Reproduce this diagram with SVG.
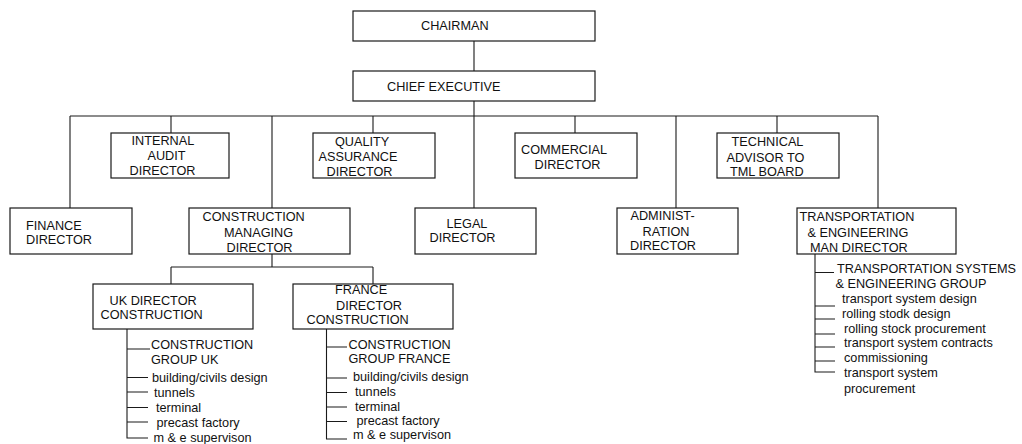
<svg xmlns="http://www.w3.org/2000/svg" width="1022" height="444" viewBox="0 0 1022 444">
  <style>
    rect.box { fill: #ffffff; stroke: #1a1a1a; stroke-width: 1.2; }
    .wire { fill: none; stroke: #1a1a1a; stroke-width: 1.1; }
    text { font-family: "Liberation Sans", Arial, sans-serif; font-size: 12.7px; fill: #111111; }
  </style>
  <rect x="0" y="0" width="1022" height="444" fill="#ffffff"/>

  <!-- connectors -->
  <g id="connectors" class="wire">
    <path d="M474 41V71M474 101V116M70 116H878"/>
    <path d="M70 116V208M171 116V133M272 116V208M373 116V133M474 116V208M575 116V133M676 116V208M777 116V133M878 116V208"/>
    <path d="M272 254V267M171 267H373M171 267V284M373 267V284"/>
    <!-- UK construction group tree -->
    <path d="M127 329V438H148M127 349H150M127 377.5H148M127 392H148M127 407.5H148M127 422H148"/>
    <!-- France construction group tree -->
    <path d="M326.5 329V439H347M326.5 347H347M326.5 378H347M326.5 392.5H347M326.5 407H347M326.5 421.5H347"/>
    <!-- transportation systems tree -->
    <path d="M815 254V372H835M815 272.5H834M815 306H835M815 319H835M815 334H835M815 347H835M815 361H835"/>
  </g>

  <g id="chairman">
    <rect class="box" x="353" y="11" width="242" height="30"/>
    <text x="421" y="29.5">CHAIRMAN</text>
  </g>
  <g id="chief-executive">
    <rect class="box" x="353" y="71" width="242" height="30"/>
    <text x="387" y="91">CHIEF EXECUTIVE</text>
  </g>
  <g id="internal-audit">
    <rect class="box" x="111" y="133" width="118" height="45"/>
    <text x="131.5" y="144.5">INTERNAL</text>
    <text x="147.5" y="159.5">AUDIT</text>
    <text x="129.5" y="175">DIRECTOR</text>
  </g>
  <g id="quality-assurance">
    <rect class="box" x="313" y="133" width="122" height="45"/>
    <text x="335" y="145.5">QUALITY</text>
    <text x="318.5" y="161">ASSURANCE</text>
    <text x="326.5" y="175.5">DIRECTOR</text>
  </g>
  <g id="commercial">
    <rect class="box" x="515" y="133" width="122" height="45"/>
    <text x="521" y="153.5">COMMERCIAL</text>
    <text x="534.5" y="168.5">DIRECTOR</text>
  </g>
  <g id="technical-advisor">
    <rect class="box" x="717" y="133" width="122" height="45"/>
    <text x="731.5" y="146">TECHNICAL</text>
    <text x="726.5" y="161.5">ADVISOR TO</text>
    <text x="730" y="176">TML BOARD</text>
  </g>
  <g id="finance">
    <rect class="box" x="10" y="208" width="122" height="46"/>
    <text x="26" y="229.5">FINANCE</text>
    <text x="26" y="244">DIRECTOR</text>
  </g>
  <g id="construction-managing">
    <rect class="box" x="189" y="208" width="161" height="46"/>
    <text x="202.5" y="221">CONSTRUCTION</text>
    <text x="224" y="236.5">MANAGING</text>
    <text x="226.5" y="251.5">DIRECTOR</text>
  </g>
  <g id="legal">
    <rect class="box" x="415" y="208" width="121" height="46"/>
    <text x="446.5" y="227.5">LEGAL</text>
    <text x="429.5" y="241.5">DIRECTOR</text>
  </g>
  <g id="administration">
    <rect class="box" x="617" y="208" width="121" height="46"/>
    <text x="630.5" y="220">ADMINIST-</text>
    <text x="642.5" y="235.5">RATION</text>
    <text x="630" y="250">DIRECTOR</text>
  </g>
  <g id="transportation-engineering">
    <rect class="box" x="797" y="208" width="159" height="46"/>
    <text x="799.5" y="220.5">TRANSPORTATION</text>
    <text x="807.5" y="236.5">&amp; ENGINEERING</text>
    <text x="810" y="251.5">MAN DIRECTOR</text>
  </g>
  <g id="uk-director">
    <rect class="box" x="93" y="284" width="160" height="45"/>
    <text x="109.5" y="304.5">UK DIRECTOR</text>
    <text x="100.5" y="318.5">CONSTRUCTION</text>
  </g>
  <g id="france-director">
    <rect class="box" x="293" y="284" width="160" height="45"/>
    <text x="335" y="294">FRANCE</text>
    <text x="336" y="309.5">DIRECTOR</text>
    <text x="306.5" y="324">CONSTRUCTION</text>
  </g>

  <g id="uk-group">
    <text x="151" y="349">CONSTRUCTION</text>
    <text x="151" y="363.5">GROUP UK</text>
    <text x="152" y="382">building/civils design</text>
    <text x="154" y="397">tunnels</text>
    <text x="156" y="412">terminal</text>
    <text x="156.5" y="426.5">precast factory</text>
    <text x="153.5" y="441.5">m &amp; e supervison</text>
  </g>
  <g id="france-group">
    <text x="348.5" y="349">CONSTRUCTION</text>
    <text x="348.5" y="363">GROUP FRANCE</text>
    <text x="353" y="381">building/civils design</text>
    <text x="355" y="396">tunnels</text>
    <text x="355" y="411">terminal</text>
    <text x="356.5" y="424.5">precast factory</text>
    <text x="353" y="439">m &amp; e supervison</text>
  </g>
  <g id="transport-group">
    <text x="837" y="273">TRANSPORTATION SYSTEMS</text>
    <text x="835.5" y="287.5">&amp; ENGINEERING GROUP</text>
    <text x="842" y="302.5">transport system design</text>
    <text x="842" y="317.5">rolling stodk design</text>
    <text x="844" y="333">rolling stock procurement</text>
    <text x="844" y="346.5">transport system contracts</text>
    <text x="844" y="361.5">commissioning</text>
    <text x="844" y="376.5">transport system</text>
    <text x="844" y="392.5">procurement</text>
  </g>
</svg>
